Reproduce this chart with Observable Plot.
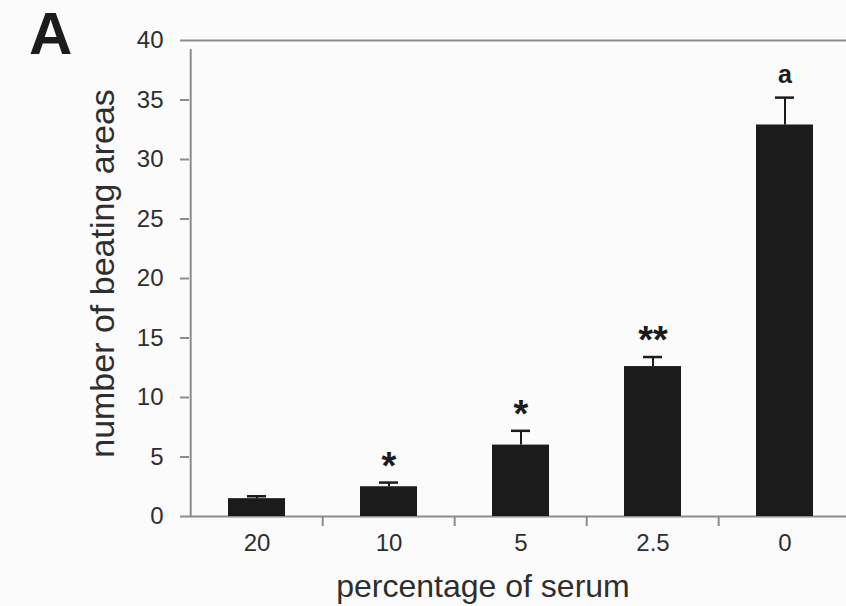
<!DOCTYPE html>
<html><head><meta charset="utf-8">
<script src="https://cdn.jsdelivr.net/npm/d3@7"></script>
<script src="https://cdn.jsdelivr.net/npm/@observablehq/plot@0.6"></script>
<style>
html,body{margin:0;padding:0;background:#fbfbfb;}
#wrap{position:relative;width:846px;height:606px;overflow:hidden;font-family:"Liberation Sans",Arial,sans-serif;}
#panel{position:absolute;left:29px;top:4px;font-size:60px;font-weight:bold;color:#1c1c1c;line-height:1;}
</style></head><body><div id="wrap"><div id="panel">A</div></div>
<script>
const categories = ["20", "10", "5", "2.5", "0"];
const means = [1.5, 2.5, 6.0, 12.6, 32.9];
const errors = [0.2, 0.35, 1.2, 0.8, 2.3];
const signif = ["", "*", "*", "**", "a"];
const yTicks = [0, 5, 10, 15, 20, 25, 30, 35, 40];
const xTitle = "percentage of serum";
const yTitle = "number of beating areas";

const data = categories.map((c, i) => ({cat: c, mean: means[i], top: means[i] + errors[i], mark: signif[i]}));
const xRange = [189, 852];
const step = (xRange[1] - xRange[0]) / categories.length;
const ink = "#1b1b1b", axisGray = "#8c8c8c", textGray = "#2e2e2e";

const chart = Plot.plot({
  width: 846, height: 606,
  marginLeft: 189, marginRight: 0, marginTop: 40, marginBottom: 90,
  style: {background: "transparent", fontFamily: "'Liberation Sans', Arial, sans-serif", color: textGray},
  x: {domain: categories, range: xRange, paddingInner: 0.57, paddingOuter: 0.285, axis: null},
  y: {domain: [0, 40], range: [516, 40], axis: null},
  marks: [
    Plot.ruleY([0, 40], {stroke: axisGray, strokeWidth: 2}),
    Plot.ruleX([categories[0]], {y1: 0, y2: 40, dx: -step / 2, insetBottom: -9, stroke: axisGray, strokeWidth: 2}),
    Plot.ruleX(categories.slice(1), {y1: 0, y2: 0, dx: -step / 2, insetBottom: -10, stroke: axisGray, strokeWidth: 2}),
    Plot.axisY({ticks: yTicks, tickSize: 9, tickPadding: 17, fontSize: 24, stroke: axisGray, strokeWidth: 2, color: textGray, label: null}),
    Plot.axisX({tickSize: 0, tickPadding: 17, fontSize: 24, color: textGray, label: null}),
    Plot.barY(data, {x: "cat", y: "mean", fill: ink}),
    Plot.ruleX(data, {x: "cat", y1: "mean", y2: "top", stroke: ink, strokeWidth: 2}),
    Plot.tickY(data, {x: "cat", y: "top", insetLeft: 19, insetRight: 19, stroke: ink, strokeWidth: 2.5}),
    Plot.text(data.filter(d => d.mark.startsWith("*")), {x: "cat", y: "top", text: "mark", fontSize: 38, fontWeight: "bold", dy: -16, fill: ink}),
    Plot.text(data.filter(d => d.mark === "a"), {x: "cat", y: "top", text: "mark", fontSize: 25, fontWeight: "bold", dy: -23, fill: ink}),
    Plot.text([xTitle], {frameAnchor: "bottom", lineAnchor: "middle", dx: -35, dy: 70, fontSize: 32, fill: textGray}),
    Plot.text([yTitle], {frameAnchor: "left", textAnchor: "middle", lineAnchor: "middle", rotate: -90, dx: -86, dy: -5, fontSize: 34, fill: textGray})
  ]
});
document.getElementById("wrap").prepend(chart);
</script>
</body></html>
